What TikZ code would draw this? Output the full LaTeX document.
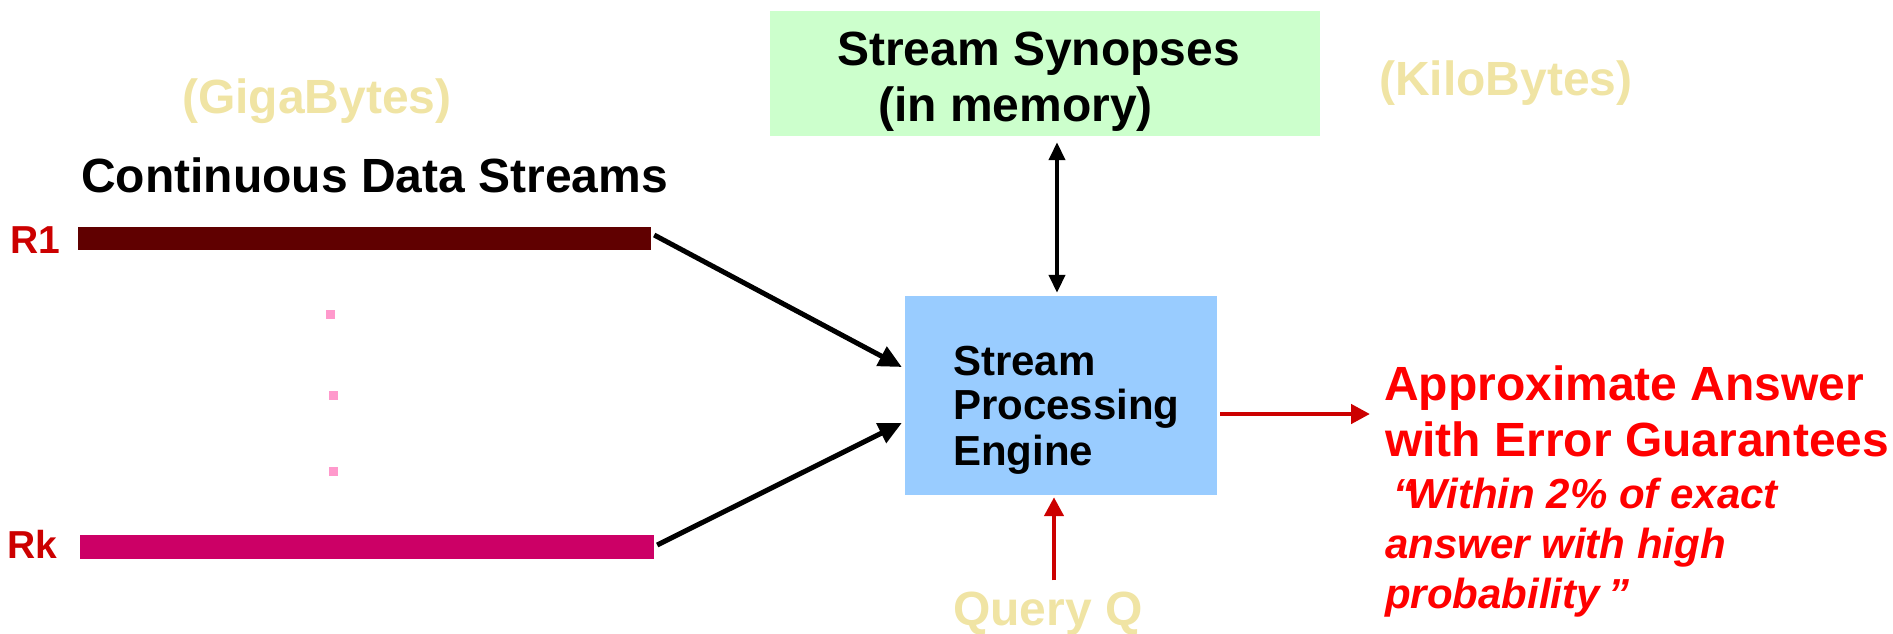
\documentclass[tikz,border=0pt]{standalone}
\usepackage{fontspec}
\setmainfont{Liberation Sans}
\usetikzlibrary{arrows.meta,calc}

\definecolor{barmaroon}{HTML}{600000}
\definecolor{barmagenta}{HTML}{CC0066}
\definecolor{dotpink}{HTML}{FF99CC}
\definecolor{synfill}{HTML}{CCFFCC}
\definecolor{enginefill}{HTML}{99CCFF}
\definecolor{labelred}{HTML}{CC0000}
\definecolor{answerred}{HTML}{FF0000}
\definecolor{palekhaki}{HTML}{F0E4A4}

\tikzset{
  txt/.style={inner sep=0pt, anchor=base west, font=\bfseries\fontsize{48}{56}\selectfont},
  enginetxt/.style={inner sep=0pt, anchor=base west, font=\bfseries\fontsize{42}{45}\selectfont},
  itxt/.style={inner sep=0pt, anchor=base west, text=answerred, font=\bfseries\itshape\fontsize{42}{50}\selectfont},
  rlabel/.style={inner sep=0pt, anchor=base west, text=labelred, font=\bfseries\fontsize{39}{39}\selectfont},
  streambar/.style={inner sep=0pt, draw=none},
  dotmark/.style={inner sep=0pt, fill=dotpink, minimum width=9pt, minimum height=9pt},
  blackarr/.style={line width=5pt, -{Triangle[length=23pt,width=21pt]}},
  dblarr/.style={line width=4pt, {Triangle[length=18pt,width=16pt]}-{Triangle[length=18pt,width=16pt]}},
  redarr/.style={line width=4.5pt, draw=labelred, -{Triangle[length=19pt,width=19pt]}}
}

\begin{document}
\begin{tikzpicture}[x=1pt,y=-1pt]
\useasboundingbox (0,0) rectangle (1893,633);

% size annotations
\node[txt, text=palekhaki] (giga) at (182,113) {(GigaBytes)};
\node[txt, text=palekhaki] (kilo) at (1379,95) {(KiloBytes)};

% stream title and the two streams
\node[txt] (title) at (81,192) {Continuous Data Streams};
\node[rlabel] (r1lab) at (10,253) {R1};
\node[rlabel] (rklab) at (7,558) {Rk};
\node[streambar, fill=barmaroon, minimum width=573pt, minimum height=23pt] (r1bar) at (364.5,238.5) {};
\node[streambar, fill=barmagenta, minimum width=574pt, minimum height=24pt] (rkbar) at (367,547) {};

% vertical ellipsis between the streams
\node[dotmark] (d1) at (330,314) {};
\node[dotmark] (d2) at (333,395) {};
\node[dotmark] (d3) at (333,471) {};

% synopsis store
\node[fill=synfill, inner sep=0pt, minimum width=550pt, minimum height=125pt] (syn) at (1045,73.5) {};
\node[txt] (syn1) at (837,65) {Stream Synopses};
\node[txt] (syn2) at (878,121) {(in memory)};

% processing engine
\node[fill=enginefill, inner sep=0pt, minimum width=312pt, minimum height=199pt] (pe) at (1061,395.5) {};
\node[enginetxt] (pe1) at (953,375) {Stream};
\node[enginetxt] (pe2) at (953,419) {Processing};
\node[enginetxt] (pe3) at (953,465) {Engine};

% query
\node[txt, text=palekhaki] (qry) at (953,625) {Query Q};

% answer
\node[txt, text=answerred] (ans1) at (1384,400) {Approximate Answer};
\node[txt, text=answerred] (ans2) at (1385,456) {with Error Guarantees};
\node[itxt] (ans3) at (1393,508) {“\kern-7pt Within 2\% of exact};
\node[itxt] (ans4) at (1385,558) {answer with high};
\node[itxt] (ans5) at (1385,608) {probability\kern-3pt\ ”};

% connectors
\draw[blackarr] ($(r1bar.east)+(3,-3.5)$) -- ($(pe.west)+(-3,-28.5)$);
\draw[blackarr] ($(rkbar.east)+(3,-2)$) -- ($(pe.west)+(-3,27.5)$);
\draw[dblarr] ($(pe.north |- syn.south)+(-4,6)$) -- ($(pe.north)+(-4,-3)$);
\draw[redarr] ($(pe.east)+(3,18.5)$) -- ($(ans1.base west)+(-14,14)$);
\draw[redarr] ($(pe.south |- qry.north)+(-7,-11)$) -- ($(pe.south)+(-7,2)$);
\end{tikzpicture}
\end{document}
